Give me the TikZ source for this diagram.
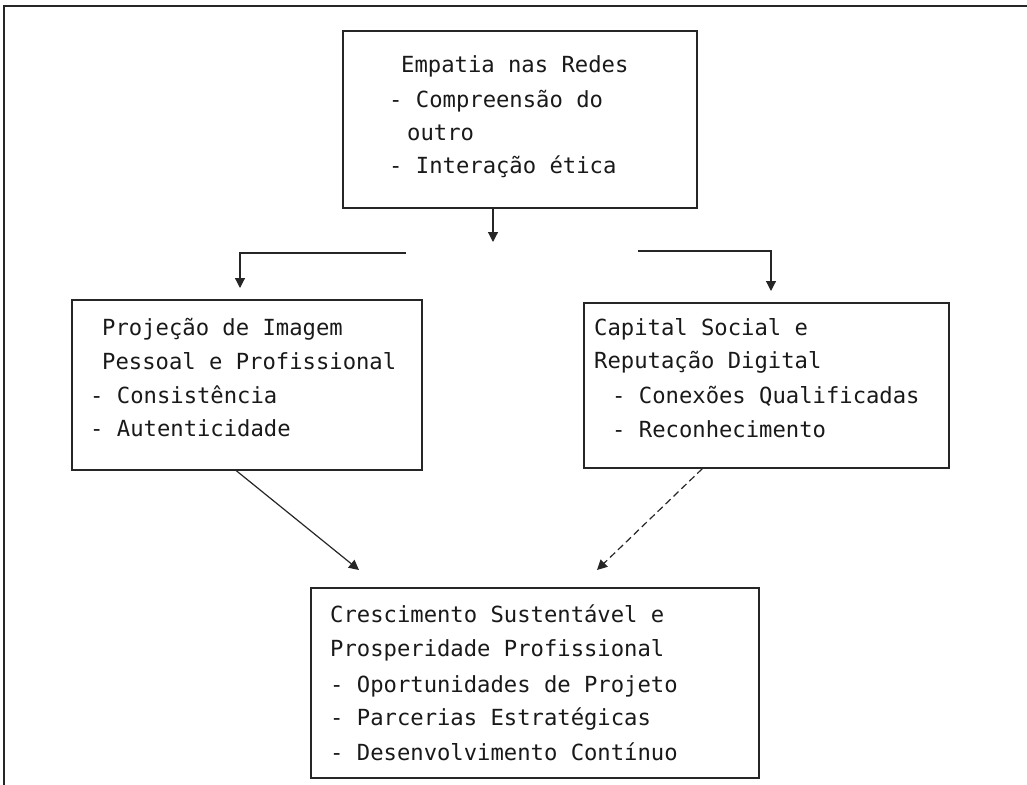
\documentclass[tikz,border=0pt]{standalone}
\usepackage{fontspec}
\setmonofont{DejaVu Sans Mono}
\usetikzlibrary{arrows.meta,calc}
\tikzset{
  boxnode/.style={draw=black!85, line width=1.4bp, inner sep=0pt, fill=none},
  txt/.style={anchor=base west, inner sep=0pt, font=\ttfamily\fontsize{22.2bp}{26bp}\selectfont, text=black!90},
  conn/.style={draw=black!85, line width=1.2bp},
  arr/.style={conn, -{Triangle[length=10bp,width=10bp]}},
  dasharr/.style={arr, dash pattern=on 7bp off 4bp},
  frameline/.style={draw=black!85, line width=1.6bp}
}
\begin{document}
\begin{tikzpicture}[x=1bp,y=-1bp]
\useasboundingbox (0,0) rectangle (1027,785);
% outer frame (top and left only)
\coordinate (f1) at (1027,6);
\coordinate (f2) at (4,6);
\coordinate (f3) at (4,785);
\draw[frameline] (f1) -- (f2) -- (f3);

% boxes
\node[boxnode, minimum width=354bp, minimum height=177bp] (top) at (520,119.5) {};
\node[boxnode, minimum width=350bp, minimum height=170bp] (left) at (247,385) {};
\node[boxnode, minimum width=365bp, minimum height=165bp] (right) at (766.5,385.5) {};
\node[boxnode, minimum width=448bp, minimum height=190bp] (bottom) at (535,683) {};

% texts: top box
\node[txt] (t1) at (401,73) {Empatia nas Redes};
\node[txt] (t2) at (389,107) {- Compreensão do};
\node[txt] (t3) at (407,140) {outro};
\node[txt] (t4) at (389,173) {- Interação ética};
% left box
\node[txt] (l1t) at (102,335) {Projeção de Imagem};
\node[txt] (l2t) at (102,369) {Pessoal e Profissional};
\node[txt] (l3t) at (90,403) {- Consistência};
\node[txt] (l4t) at (90,436) {- Autenticidade};
% right box
\node[txt] (r1t) at (594,335) {Capital Social e};
\node[txt] (r2t) at (594,368) {Reputação Digital};
\node[txt] (r3t) at (612,403) {- Conexões Qualificadas};
\node[txt] (r4t) at (612,437) {- Reconhecimento};
% bottom box
\node[txt] (b1t) at (330,622) {Crescimento Sustentável e};
\node[txt] (b2t) at (330,656) {Prosperidade Profissional};
\node[txt] (b3t) at (330,692) {- Oportunidades de Projeto};
\node[txt] (b4t) at (330,725) {- Parcerias Estratégicas};
\node[txt] (b5t) at (330,760) {- Desenvolvimento Contínuo};

% connectors
\coordinate (ca) at (493,242);
\draw[arr] (top.south -| ca) -- (ca);

\coordinate (ls) at (406,253);
\coordinate (la) at (240,288);
\draw[arr] (ls) -| (la);

\coordinate (rs) at (638,251);
\coordinate (ra) at (771,291);
\draw[arr] (rs) -| (ra);

\coordinate (ba1) at (359,570);
\coordinate (ba2) at (597,570);
\draw[arr] ($(left.south west)+(165,0)$) -- (ba1);
\draw[dasharr] ($(right.south west)+(119,0)$) -- (ba2);
\end{tikzpicture}
\end{document}
